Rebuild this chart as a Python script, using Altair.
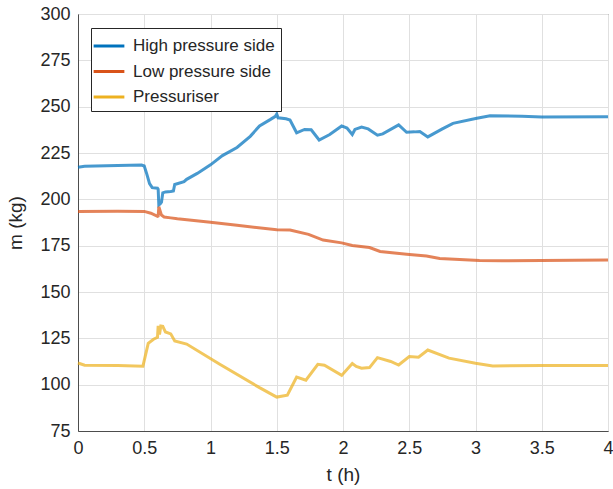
import altair as alt
import pandas as pd

series_names = ["High pressure side", "Low pressure side", "Pressuriser"]
series_colors = ["#0072BD", "#D95319", "#EDB120"]

t_high = [0, 0.05, 0.3, 0.48, 0.5, 0.52, 0.54, 0.56, 0.6, 0.605, 0.61, 0.62, 0.63, 0.64,
          0.66, 0.7, 0.72, 0.73, 0.8, 0.82, 0.9, 1.0, 1.09, 1.2, 1.3, 1.37, 1.45, 1.49,
          1.5, 1.51, 1.57, 1.6, 1.65, 1.71, 1.76, 1.82, 1.9, 1.99, 2.03, 2.07, 2.09, 2.14,
          2.19, 2.26, 2.3, 2.42, 2.48, 2.54, 2.58, 2.64, 2.75, 2.83, 3.01, 3.11, 3.35,
          3.5, 4.0]
m_high = [217.3, 217.8, 218.2, 218.5, 218.0, 213.5, 208.5, 206.3, 206.0, 205.5, 197.0,
          197.5, 198.5, 203.5, 204.0, 204.2, 204.5, 208.0, 209.5, 210.8, 214.0, 218.6,
          223.6, 228.0, 234.0, 239.6, 243.0, 244.8, 246.0, 244.0, 243.5, 242.8, 235.9,
          237.7, 237.5, 232.0, 235.0, 239.6, 238.5, 235.0, 237.7, 239.0, 238.0, 234.6,
          235.3, 240.2, 236.2, 236.4, 236.6, 233.7, 238.0, 241.0, 243.7, 245.1, 244.8,
          244.4, 244.6]

t_low = [0, 0.3, 0.5, 0.55, 0.6, 0.605, 0.61, 0.63, 0.65, 0.7, 0.75, 1.0, 1.2, 1.5,
         1.6, 1.74, 1.85, 1.99, 2.07, 2.2, 2.28, 2.48, 2.63, 2.73, 3.03, 3.2, 4.0]
m_low = [193.5, 193.6, 193.5, 192.5, 190.8, 191.0, 196.0, 191.5, 190.5, 190.0, 189.5,
         187.6, 186.0, 183.6, 183.4, 181.1, 178.0, 176.5, 175.1, 174.0, 171.9, 170.4,
         169.4, 168.1, 167.0, 166.8, 167.2]

t_prs = [0, 0.05, 0.3, 0.49, 0.53, 0.57, 0.6, 0.605, 0.615, 0.625, 0.64, 0.66, 0.7,
         0.73, 0.82, 1.07, 1.37, 1.5, 1.58, 1.65, 1.72, 1.81, 1.86, 1.99, 2.07, 2.1,
         2.14, 2.2, 2.26, 2.36, 2.42, 2.5, 2.57, 2.64, 2.8, 3.0, 3.13, 3.5, 4.0]
m_prs = [111.7, 110.5, 110.3, 110.0, 122.3, 124.5, 125.6, 131.7, 127.0, 131.7, 131.5,
         128.4, 127.4, 123.6, 121.9, 111.0, 98.4, 93.3, 94.3, 104.1, 102.4, 111.0,
         110.5, 105.0, 111.4, 109.8, 108.9, 109.2, 114.6, 112.5, 110.6, 115.2, 114.8,
         118.7, 114.3, 111.6, 110.1, 110.3, 110.3]

rows = []
for name, ts, ms in zip(series_names, [t_high, t_low, t_prs], [m_high, m_low, m_prs]):
    for i, (t, m) in enumerate(zip(ts, ms)):
        rows.append({"series": name, "t": t, "m": m, "i": i})
df = pd.DataFrame(rows)

FONT = "Liberation Sans"

chart = (
    alt.Chart(df)
    .mark_line(strokeWidth=3, opacity=0.72)
    .encode(
        x=alt.X("t:Q", title="t (h)",
                scale=alt.Scale(domain=[0, 4], nice=False),
                axis=alt.Axis(values=[0, 0.5, 1, 1.5, 2, 2.5, 3, 3.5, 4],
                              format="~g", labelFlush=False)),
        y=alt.Y("m:Q", title="m (kg)",
                scale=alt.Scale(domain=[75, 300], nice=False),
                axis=alt.Axis(values=[75, 100, 125, 150, 175, 200, 225, 250, 275, 300])),
        color=alt.Color("series:N",
                        scale=alt.Scale(domain=series_names, range=series_colors),
                        legend=alt.Legend(title=None, orient="none", legendX=13, legendY=14,
                                          direction="vertical",
                                          symbolType="M-1.5,0H1.5",
                                          symbolSize=420, symbolStrokeWidth=3,
                                          symbolOpacity=1,
                                          labelFontSize=17, labelFont=FONT,
                                          labelColor="#262626", rowPadding=5.5,
                                          strokeColor="#262626", fillColor="white",
                                          padding=6, labelOffset=12, offset=0)),
        order="i:Q",
    )
    .properties(width=530, height=417,
                autosize=alt.AutoSizeParams(type="none"),
                padding={"left": 78, "top": 14, "right": 5, "bottom": 58})
    .configure_view(stroke="#4d4d4d", strokeWidth=1)
    .configure_axis(
        labelFont=FONT, titleFont=FONT, labelFontSize=18, titleFontSize=19,
        labelColor="#262626", titleColor="#262626", titleFontWeight="normal",
        gridColor="#e0e0e0", gridWidth=1, domainColor="#4d4d4d",
        ticks=False, labelPadding=8,
    )
    .configure_axisY(titlePadding=14)
    .configure_axisX(titlePadding=8)
)

chart.save("out.html", embed_options={"renderer": "svg", "actions": False})
